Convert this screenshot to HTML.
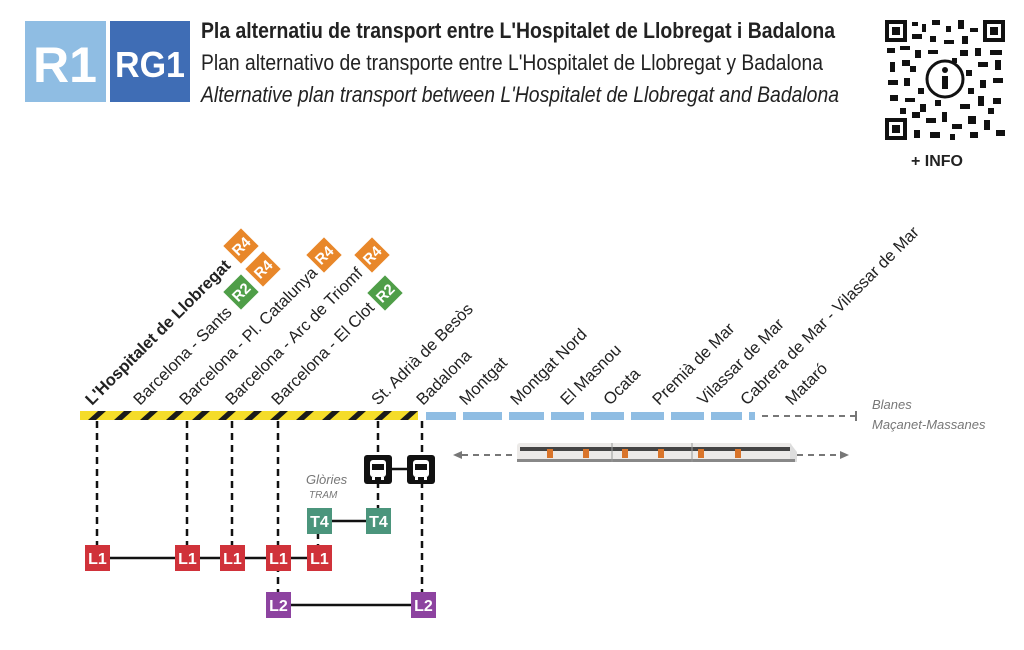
<!DOCTYPE html>
<html><head><meta charset="utf-8"><style>
html,body{margin:0;padding:0;background:#fff;}
svg{display:block;}
text{font-family:"Liberation Sans Narrow","Liberation Sans",sans-serif;}
</style></head><body>
<svg width="1024" height="650" viewBox="0 0 1024 650" xmlns="http://www.w3.org/2000/svg">
<defs>
<pattern id="hz" width="26" height="9" patternUnits="userSpaceOnUse" patternTransform="translate(80,411)">
<rect width="26" height="9" fill="#f5dc2a"/>
<polygon points="8,9 18,0 26,0 16,9" fill="#1a1a1a"/>
<polygon points="-5,9 5,0 13,0 3,9" fill="#f5dc2a"/>
</pattern>
<g id="bus">
<rect x="-14" y="-14" width="28" height="29" rx="3" fill="#111"/>
<rect x="-8" y="-9" width="16" height="17" rx="3" fill="#fff"/>
<rect x="-6" y="-5" width="12" height="6" fill="#111"/>
<rect x="-6" y="8" width="3" height="3" fill="#fff"/><rect x="3" y="8" width="3" height="3" fill="#fff"/>
</g>
</defs>

<!-- header -->
<rect x="25" y="21" width="81" height="81" fill="#8fbde3"/>
<rect x="110" y="21" width="80" height="81" fill="#3f6db5"/>
<text x="65" y="82" font-size="50" font-weight="bold" fill="#fff" text-anchor="middle" textLength="64" lengthAdjust="spacingAndGlyphs">R1</text>
<text x="150" y="77" font-size="36" font-weight="bold" fill="#fff" text-anchor="middle" textLength="70" lengthAdjust="spacingAndGlyphs">RG1</text>
<text x="201" y="38" font-size="22" font-weight="bold" fill="#222" textLength="634" lengthAdjust="spacingAndGlyphs">Pla alternatiu de transport entre L'Hospitalet de Llobregat i Badalona</text>
<text x="201" y="70" font-size="22" fill="#222" textLength="622" lengthAdjust="spacingAndGlyphs">Plan alternativo de transporte entre L'Hospitalet de Llobregat y Badalona</text>
<text x="201" y="102" font-size="22" font-style="italic" fill="#222" textLength="638" lengthAdjust="spacingAndGlyphs">Alternative plan transport between L'Hospitalet de Llobregat and Badalona</text>

<!-- QR -->
<g>
<rect x="885" y="20" width="120" height="120" fill="#fff"/>
<g fill="#111">
<rect x="885" y="20" width="22" height="22"/><rect x="983" y="20" width="22" height="22"/><rect x="885" y="118" width="22" height="22"/>
</g>
<g fill="#fff"><rect x="889" y="24" width="14" height="14"/><rect x="987" y="24" width="14" height="14"/><rect x="889" y="122" width="14" height="14"/></g>
<g fill="#111"><rect x="892" y="27" width="8" height="8"/><rect x="990" y="27" width="8" height="8"/><rect x="892" y="125" width="8" height="8"/></g>
<g fill="#111">
<rect x="912" y="22" width="6" height="4"/><rect x="922" y="24" width="4" height="8"/><rect x="932" y="20" width="8" height="5"/><rect x="946" y="26" width="5" height="6"/><rect x="958" y="20" width="6" height="9"/><rect x="970" y="28" width="8" height="4"/>
<rect x="912" y="34" width="10" height="5"/><rect x="930" y="36" width="6" height="6"/><rect x="944" y="40" width="10" height="4"/><rect x="962" y="36" width="6" height="8"/>
<rect x="887" y="48" width="8" height="5"/><rect x="900" y="46" width="10" height="4"/><rect x="915" y="50" width="6" height="8"/><rect x="928" y="50" width="10" height="4"/><rect x="960" y="50" width="8" height="6"/><rect x="975" y="48" width="6" height="8"/><rect x="990" y="50" width="12" height="5"/>
<rect x="890" y="62" width="5" height="10"/><rect x="902" y="60" width="8" height="6"/><rect x="978" y="62" width="10" height="5"/><rect x="995" y="60" width="6" height="10"/>
<rect x="888" y="80" width="10" height="5"/><rect x="904" y="78" width="6" height="8"/><rect x="980" y="80" width="6" height="8"/><rect x="993" y="78" width="10" height="5"/>
<rect x="890" y="95" width="8" height="6"/><rect x="905" y="98" width="10" height="4"/><rect x="920" y="104" width="6" height="8"/><rect x="960" y="104" width="10" height="5"/><rect x="978" y="96" width="6" height="10"/><rect x="993" y="98" width="8" height="6"/>
<rect x="912" y="112" width="8" height="6"/><rect x="926" y="118" width="10" height="5"/><rect x="942" y="112" width="5" height="10"/><rect x="952" y="124" width="10" height="5"/><rect x="968" y="116" width="8" height="8"/><rect x="984" y="120" width="6" height="10"/><rect x="996" y="130" width="9" height="6"/>
<rect x="914" y="130" width="6" height="8"/><rect x="930" y="132" width="10" height="6"/><rect x="950" y="134" width="5" height="6"/><rect x="970" y="132" width="8" height="6"/>
<rect x="910" y="66" width="6" height="6"/><rect x="918" y="88" width="6" height="6"/><rect x="966" y="70" width="6" height="6"/><rect x="968" y="88" width="6" height="6"/><rect x="935" y="100" width="6" height="6"/><rect x="952" y="58" width="5" height="5"/><rect x="900" y="108" width="6" height="6"/><rect x="988" y="108" width="6" height="6"/>
</g>
<circle cx="945" cy="79" r="18" fill="#fff" stroke="#111" stroke-width="3"/>
<circle cx="945" cy="70" r="3" fill="#111"/>
<rect x="942" y="76" width="6" height="13" fill="#111"/>
<text x="937" y="166" font-size="16" font-weight="bold" fill="#222" text-anchor="middle">+ INFO</text>
</g>

<!-- track -->
<rect x="80" y="411" width="338" height="9" fill="url(#hz)"/>
<g fill="#8fbde3">
<rect x="426" y="412" width="30" height="8"/><rect x="463" y="412" width="39" height="8"/><rect x="509" y="412" width="35" height="8"/><rect x="551" y="412" width="33" height="8"/><rect x="591" y="412" width="33" height="8"/><rect x="631" y="412" width="33" height="8"/><rect x="671" y="412" width="33" height="8"/><rect x="711" y="412" width="31" height="8"/><rect x="749" y="412" width="6" height="8"/>
</g>
<line x1="762" y1="416" x2="855" y2="416" stroke="#777" stroke-width="2" stroke-dasharray="6,5"/>
<line x1="856" y1="411" x2="856" y2="421" stroke="#777" stroke-width="2"/>
<text x="872" y="409" font-size="13" font-style="italic" fill="#777">Blanes</text>
<text x="872" y="429" font-size="13" font-style="italic" fill="#777">Maçanet-Massanes</text>

<!-- station labels -->
<g font-size="16.5" fill="#222">
<text transform="translate(92,406) rotate(-45)" font-weight="bold">L'Hospitalet de Llobregat</text>
<text transform="translate(140,406) rotate(-45)">Barcelona - Sants</text>
<text transform="translate(186,406) rotate(-45)">Barcelona - Pl. Catalunya</text>
<text transform="translate(232,406) rotate(-45)">Barcelona - Arc de Triomf</text>
<text transform="translate(278,406) rotate(-45)">Barcelona - El Clot</text>
<text transform="translate(378,406) rotate(-45)">St. Adrià de Besòs</text>
<text transform="translate(423,406) rotate(-45)">Badalona</text>
<text transform="translate(466,406) rotate(-45)">Montgat</text>
<text transform="translate(517,406) rotate(-45)">Montgat Nord</text>
<text transform="translate(567,406) rotate(-45)">El Masnou</text>
<text transform="translate(610,406) rotate(-45)">Ocata</text>
<text transform="translate(659,406) rotate(-45)">Premià de Mar</text>
<text transform="translate(704,406) rotate(-45)">Vilassar de Mar</text>
<text transform="translate(747,406) rotate(-45)">Cabrera de Mar - Vilassar de Mar</text>
<text transform="translate(792,406) rotate(-45)">Mataró</text>
</g>

<!-- R badges -->
<g font-size="15" font-weight="bold" fill="#fff" text-anchor="middle">
<g transform="translate(241,246) rotate(-45)"><rect x="-12.5" y="-12.5" width="25" height="25" fill="#e8872a"/><text y="5.5">R4</text></g>
<g transform="translate(263,269) rotate(-45)"><rect x="-12.5" y="-12.5" width="25" height="25" fill="#e8872a"/><text y="5.5">R4</text></g>
<g transform="translate(241,292) rotate(-45)"><rect x="-12.5" y="-12.5" width="25" height="25" fill="#4f9e48"/><text y="5.5">R2</text></g>
<g transform="translate(324,255) rotate(-45)"><rect x="-12.5" y="-12.5" width="25" height="25" fill="#e8872a"/><text y="5.5">R4</text></g>
<g transform="translate(372,255) rotate(-45)"><rect x="-12.5" y="-12.5" width="25" height="25" fill="#e8872a"/><text y="5.5">R4</text></g>
<g transform="translate(385,293) rotate(-45)"><rect x="-12.5" y="-12.5" width="25" height="25" fill="#4f9e48"/><text y="5.5">R2</text></g>
</g>

<!-- dashed verticals -->
<g stroke="#111" stroke-width="2.5" stroke-dasharray="7,5" fill="none">
<line x1="97" y1="421" x2="97" y2="545"/>
<line x1="187" y1="421" x2="187" y2="545"/>
<line x1="232" y1="421" x2="232" y2="545"/>
<line x1="278" y1="421" x2="278" y2="592"/>
<line x1="378" y1="421" x2="378" y2="508"/>
<line x1="422" y1="421" x2="422" y2="592"/>
<line x1="318" y1="532" x2="318" y2="545"/>
</g>

<!-- solid lines -->
<g stroke="#111" stroke-width="2.5">
<line x1="97" y1="558" x2="320" y2="558"/>
<line x1="278" y1="605" x2="422" y2="605"/>
<line x1="320" y1="521" x2="378" y2="521"/>
<line x1="378" y1="469" x2="421" y2="469"/>
</g>

<!-- buses -->
<use href="#bus" x="378" y="469"/>
<use href="#bus" x="421" y="469"/>

<!-- badges -->
<g font-size="16" font-weight="bold" fill="#fff" text-anchor="middle">
<rect x="85" y="545" width="25" height="26" fill="#d0323a"/><text x="97.5" y="564">L1</text>
<rect x="175" y="545" width="25" height="26" fill="#d0323a"/><text x="187.5" y="564">L1</text>
<rect x="220" y="545" width="25" height="26" fill="#d0323a"/><text x="232.5" y="564">L1</text>
<rect x="266" y="545" width="25" height="26" fill="#d0323a"/><text x="278.5" y="564">L1</text>
<rect x="307" y="545" width="25" height="26" fill="#d0323a"/><text x="319.5" y="564">L1</text>
<rect x="266" y="592" width="25" height="26" fill="#8d43a0"/><text x="278.5" y="611">L2</text>
<rect x="411" y="592" width="25" height="26" fill="#8d43a0"/><text x="423.5" y="611">L2</text>
<rect x="307" y="508" width="25" height="26" fill="#4b957c"/><text x="319.5" y="527">T4</text>
<rect x="366" y="508" width="25" height="26" fill="#4b957c"/><text x="378.5" y="527">T4</text>
</g>
<text x="306" y="484" font-size="13" font-style="italic" fill="#777">Glòries</text>
<text x="309" y="498" font-size="10" font-style="italic" fill="#777">TRAM</text>

<!-- train -->
<line x1="462" y1="455" x2="517" y2="455" stroke="#777" stroke-width="2" stroke-dasharray="6,5"/>
<polygon points="453,455 462,451 462,459" fill="#777"/>
<line x1="797" y1="455" x2="840" y2="455" stroke="#777" stroke-width="2" stroke-dasharray="6,5"/>
<polygon points="849,455 840,451 840,459" fill="#777"/>
<g>
<rect x="517" y="443" width="275" height="19" rx="3" fill="#eceae8"/>
<path d="M790,443 L797,452 L797,462 L790,462 Z" fill="#ddd"/>
<rect x="520" y="447" width="270" height="4" fill="#444"/>
<rect x="517" y="459" width="278" height="3" fill="#888"/>
<g fill="#d9742a">
<rect x="547" y="449" width="6" height="9"/><rect x="583" y="449" width="6" height="9"/><rect x="622" y="449" width="6" height="9"/><rect x="658" y="449" width="6" height="9"/><rect x="698" y="449" width="6" height="9"/><rect x="735" y="449" width="6" height="9"/>
</g>
<line x1="612" y1="443" x2="612" y2="462" stroke="#999"/><line x1="692" y1="443" x2="692" y2="462" stroke="#999"/>
</g>
</svg>
</body></html>
